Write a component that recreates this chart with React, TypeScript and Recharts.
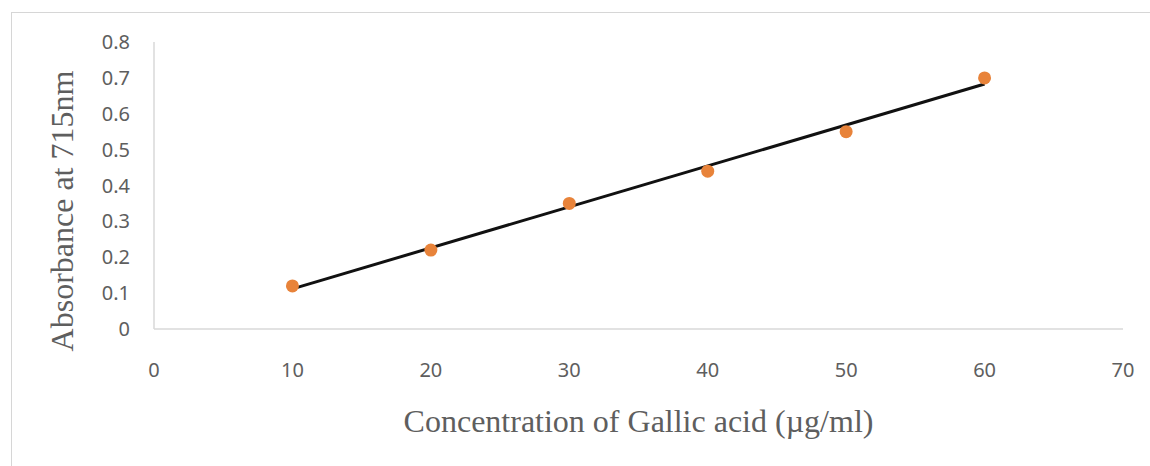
import React from "react";
import {
  ComposedChart,
  Scatter,
  Line,
  XAxis,
  YAxis,
} from "recharts";

// Gallic acid standard curve
const concentrations = [10, 20, 30, 40, 50, 60];
const absorbance = [0.12, 0.22, 0.35, 0.44, 0.55, 0.7];

// linear trendline ends
const trendX = [10, 60];
const trendY = [0.112, 0.683];

const xTicks = [0, 10, 20, 30, 40, 50, 60, 70];
const yTicks = [0, 0.1, 0.2, 0.3, 0.4, 0.5, 0.6, 0.7, 0.8];

const xTitle = "Concentration of Gallic acid (\u00b5g/ml)";
const yTitle = "Absorbance at 715nm";

const points = concentrations.map((x, i) => ({ x, y: absorbance[i] }));
const trend = trendX.map((x, i) => ({ x, y: trendY[i] }));

const GREY = "#5e5e5e";
const TITLE_FONT = "'Liberation Serif', 'DejaVu Serif', serif";
const TICK_FONT = "'Noto Sans', 'Open Sans', sans-serif";

export default function App() {
  return (
    <div
      style={{
        position: "absolute",
        left: 0,
        top: 0,
        width: 1150,
        height: 466,
        overflow: "hidden",
        background: "#fff",
      }}
    >
      <div
        style={{
          position: "absolute",
          left: 11,
          top: 12,
          width: 1160,
          height: 480,
          border: "1.5px solid #d6d6d6",
        }}
      />
      <div style={{ position: "absolute", left: 0, top: 0 }}>
        <ComposedChart
          width={1150}
          height={466}
          margin={{ top: 42, right: 27, left: 0, bottom: 0 }}
        >
          <XAxis
            type="number"
            dataKey="x"
            domain={[0, 70]}
            ticks={xTicks}
            height={137}
            stroke="#d9d9d9"
            strokeWidth={1.5}
            tickLine={false}
            tickSize={0}
            tickMargin={34}
            tick={{ fill: GREY, fontSize: 20, fontFamily: TICK_FONT }}
            label={{
              content: ({ viewBox }: any) => (
                <text
                  x={viewBox.x + viewBox.width / 2}
                  y={432}
                  textAnchor="middle"
                  fill={GREY}
                  fontSize={32}
                  fontFamily={TITLE_FONT}
                >
                  {xTitle}
                </text>
              ),
            }}
          />
          <YAxis
            type="number"
            dataKey="y"
            domain={[0, 0.8]}
            ticks={yTicks}
            width={154}
            stroke="#d9d9d9"
            strokeWidth={1.5}
            tickLine={false}
            tickSize={0}
            tickMargin={24}
            tick={{ fill: GREY, fontSize: 20, fontFamily: TICK_FONT }}
            label={{
              content: () => (
                <text
                  x={73}
                  y={211}
                  transform="rotate(-90 73 211)"
                  textAnchor="middle"
                  fill={GREY}
                  fontSize={32}
                  fontFamily={TITLE_FONT}
                >
                  {yTitle}
                </text>
              ),
            }}
          />
          <Scatter
            data={points}
            dataKey="y"
            fill="#E8833A"
            shape={(p: any) => (
              <circle cx={p.cx} cy={p.cy} r={6.5} fill="#E8833A" />
            )}
            isAnimationActive={false}
          />
          <Line
            data={trend}
            dataKey="y"
            type="linear"
            stroke="#111"
            strokeWidth={3}
            dot={false}
            activeDot={false}
            isAnimationActive={false}
          />
        </ComposedChart>
      </div>
    </div>
  );
}
